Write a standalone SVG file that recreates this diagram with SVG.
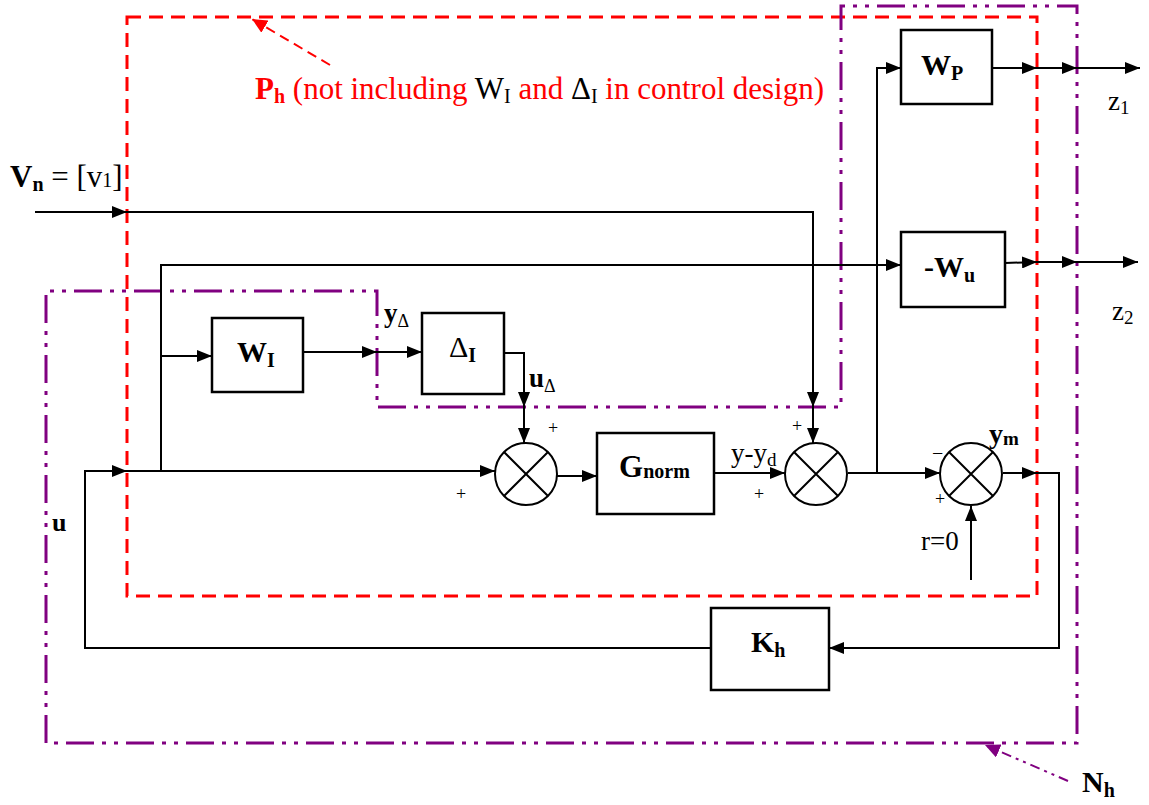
<svg xmlns="http://www.w3.org/2000/svg" width="1149" height="805" viewBox="0 0 1149 805">
<style>
.w{stroke:#000;stroke-width:2;fill:none}
.box{stroke:#000;stroke-width:2.5;fill:#fff}
.t{font-family:"Liberation Serif","Times New Roman",serif;fill:#000}
.b{font-weight:bold}
.red{stroke:#ff0000;stroke-width:3;fill:none;stroke-dasharray:14 8}
.pur{stroke:#800080;stroke-width:3;fill:none;stroke-dasharray:28 8 4 8 4 8}
</style>
<defs>
<marker id="a" markerUnits="userSpaceOnUse" markerWidth="16" markerHeight="12" refX="15" refY="6" orient="auto"><path d="M0,0 L15,6 L0,12 z" fill="#000"/></marker>
<marker id="ar" markerUnits="userSpaceOnUse" markerWidth="16" markerHeight="14" refX="15" refY="7" orient="auto"><path d="M0,0 L15,7 L0,14 z" fill="#ff0000"/></marker>
<marker id="ap" markerUnits="userSpaceOnUse" markerWidth="16" markerHeight="14" refX="15" refY="7" orient="auto"><path d="M0,0 L15,7 L0,14 z" fill="#800080"/></marker>
</defs>

<g id="boundaries">
<rect class="red" x="127" y="17" width="910" height="579"/>
<path class="pur" d="M46,743 L46,291 L377,291 L377,407 L841,407 L841,6 L1077,6 L1077,743 Z"/>
<line x1="330" y1="65" x2="252" y2="19" stroke="#ff0000" stroke-width="2" stroke-dasharray="10 6" marker-end="url(#ar)"/>
<line x1="1068" y1="781" x2="985" y2="745" stroke="#800080" stroke-width="2" stroke-dasharray="10 5 3 5 3 5" marker-end="url(#ap)"/>
</g>

<g id="connectors">
<polyline class="w" points="35,212 127,212" marker-end="url(#a)"/>
<polyline class="w" points="127,212 813,212 813,407" marker-end="url(#a)"/>
<polyline class="w" points="813,407 813,443" marker-end="url(#a)"/>
<polyline class="w" points="711,648 85,648 85,471 127,471" marker-end="url(#a)"/>
<polyline class="w" points="127,471 495,471" marker-end="url(#a)"/>
<polyline class="w" points="161,471 161,265 901,265" marker-end="url(#a)"/>
<polyline class="w" points="161,356 212,356" marker-end="url(#a)"/>
<polyline class="w" points="303,352 377,352" marker-end="url(#a)"/>
<polyline class="w" points="377,352 422,352" marker-end="url(#a)"/>
<polyline class="w" points="504,353 524,353 524,407" marker-end="url(#a)"/>
<polyline class="w" points="524,407 524,443" marker-end="url(#a)"/>
<polyline class="w" points="557,476 597,476" marker-end="url(#a)"/>
<polyline class="w" points="714,473 785,473" marker-end="url(#a)"/>
<polyline class="w" points="848,473 940,473" marker-end="url(#a)"/>
<polyline class="w" points="877,473 877,68 901,68" marker-end="url(#a)"/>
<polyline class="w" points="992,68 1037,68" marker-end="url(#a)"/>
<polyline class="w" points="1037,68 1077,68" marker-end="url(#a)"/>
<polyline class="w" points="1077,68 1140,68" marker-end="url(#a)"/>
<polyline class="w" points="1005,263 1037,262" marker-end="url(#a)"/>
<polyline class="w" points="1037,262 1077,262" marker-end="url(#a)"/>
<polyline class="w" points="1077,262 1138,262" marker-end="url(#a)"/>
<polyline class="w" points="1003,473 1037,473" marker-end="url(#a)"/>
<polyline class="w" points="1037,473 1059,473 1059,648 829,648" marker-end="url(#a)"/>
<polyline class="w" points="971,580 971,506" marker-end="url(#a)"/>
</g>

<g id="WP"><rect class="box" x="901" y="30" width="91" height="74"/>
<text class="t b" x="921" y="75" font-size="30">W<tspan font-size="20" dy="5">P</tspan></text></g>
<g id="Wu"><rect class="box" x="901" y="232" width="104" height="75"/>
<text class="t b" x="924" y="277" font-size="30">-W<tspan font-size="20" dy="5">u</tspan></text></g>
<g id="WI"><rect class="box" x="212" y="318" width="91" height="74"/>
<text class="t b" x="237" y="362" font-size="30">W<tspan font-size="20" dy="5">I</tspan></text></g>
<g id="DeltaI"><rect class="box" x="422" y="313" width="82" height="81"/>
<text class="t" x="449" y="357" font-size="30">Δ<tspan class="b" font-size="20" dy="5">I</tspan></text></g>
<g id="Gnorm"><rect class="box" x="597" y="433" width="117" height="81"/>
<text class="t b" x="619" y="477" font-size="31">G<tspan font-size="20" dy="1">norm</tspan></text></g>
<g id="Kh"><rect class="box" x="711" y="608" width="118" height="82"/>
<text class="t b" x="751" y="652" font-size="30">K<tspan font-size="20" dy="5">h</tspan></text></g>

<g id="sum1"><circle cx="526" cy="474" r="31" class="w" stroke-width="2.5"/>
<path class="w" d="M504,452 L548,496 M548,452 L504,496"/></g>
<g id="sum2"><circle cx="816" cy="474" r="31" class="w" stroke-width="2.5"/>
<path class="w" d="M794,452 L838,496 M838,452 L794,496"/></g>
<g id="sum3"><circle cx="971" cy="474" r="31" class="w" stroke-width="2.5"/>
<path class="w" d="M949,452 L993,496 M993,452 L949,496"/></g>

<g id="labels">
<text class="t" x="255" y="99" font-size="31" fill="#ff0000"><tspan class="b" fill="#ff0000">P</tspan><tspan class="b" fill="#ff0000" font-size="20" dy="4">h</tspan><tspan fill="#ff0000" dy="-4"> (not including </tspan><tspan>W</tspan><tspan font-size="20" dy="4">I</tspan><tspan fill="#ff0000" dy="-4"> and </tspan><tspan>Δ</tspan><tspan font-size="20" dy="4">I</tspan><tspan fill="#ff0000" dy="-4"> in control design)</tspan></text>
<text class="t" x="10" y="187" font-size="31"><tspan class="b">V</tspan><tspan class="b" font-size="20" dy="4">n</tspan><tspan dy="-4"> = [v</tspan><tspan font-size="20">1</tspan><tspan>]</tspan></text>
<text class="t b" x="384" y="322" font-size="27">y<tspan font-size="18" dy="5" font-weight="normal">Δ</tspan></text>
<text class="t b" x="529" y="387" font-size="27">u<tspan font-size="18" dy="5" font-weight="normal">Δ</tspan></text>
<text class="t b" x="52" y="531" font-size="26">u</text>
<text class="t" x="731" y="462" font-size="27">y-y<tspan font-size="19" dy="4">d</tspan></text>
<text class="t b" x="989" y="443" font-size="28">y<tspan font-size="19" dy="2">m</tspan></text>
<text class="t" x="921" y="550" font-size="27">r=0</text>
<text class="t" x="1108" y="110" font-size="27">z<tspan font-size="19" dy="4">1</tspan></text>
<text class="t" x="1112" y="320" font-size="27">z<tspan font-size="19" dy="4">2</tspan></text>
<text class="t b" x="1082" y="792" font-size="30" fill="#800080">N<tspan font-size="20" dy="5">h</tspan></text>
<text class="t" x="548" y="434" font-size="18">+</text>
<text class="t" x="456" y="500" font-size="18">+</text>
<text class="t" x="792" y="432" font-size="18">+</text>
<text class="t" x="754" y="500" font-size="18">+</text>
<text class="t" x="932" y="460" font-size="20">−</text>
<text class="t" x="935" y="505" font-size="18">+</text>
</g>
</svg>
